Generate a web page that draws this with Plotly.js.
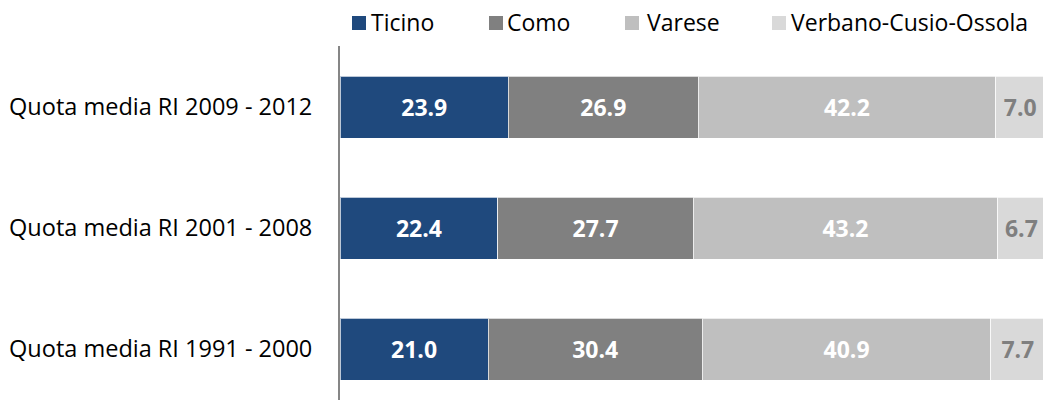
<!DOCTYPE html>
<html>
<head>
<meta charset="utf-8">
<script src="https://cdn.plot.ly/plotly-3.0.1.min.js"></script>
<style>
  html, body { margin: 0; padding: 0; background: #fff; }
  #chart { width: 1043px; height: 400px; }
</style>
</head>
<body>
<div id="chart"></div>
<script>
// ---- data ----
var periods = ["Quota media RI 1991 - 2000", "Quota media RI 2001 - 2008", "Quota media RI 2009 - 2012"];
var seriesNames = ["Ticino", "Como", "Varese", "Verbano-Cusio-Ossola"];
var ticino = [21.0, 22.4, 23.9];
var como = [30.4, 27.7, 26.9];
var varese = [40.9, 43.2, 42.2];
var vco = [7.7, 6.7, 7.0];

// ---- styles ----
var colors = ["#1F497D", "#808080", "#BFBFBF", "#D9D9D9"];
var labelColors = ["#FFFFFF", "#FFFFFF", "#FFFFFF", "#7F7F7F"];
var FONT = "Open Sans, sans-serif";

var values = [ticino, como, varese, vco];
var traces = values.map(function (vals, i) {
  return {
    type: "bar",
    orientation: "h",
    name: seriesNames[i],
    y: periods,
    x: vals,
    width: 0.512,
    marker: { color: colors[i], line: { color: "rgba(255,255,255,0.7)", width: 1 } },
    texttemplate: "%{x:.1f}",
    textposition: "inside",
    insidetextanchor: "middle",
    textangle: 0,
    constraintext: "none",
    insidetextfont: { family: FONT, size: 23, color: labelColors[i], weight: "bold" },
    hoverinfo: "skip",
    showlegend: false
  };
});

// ---- manual legend (pixel layout converted to paper coords) ----
var L = 340, T = 46, W = 703, H = 354;
function px2x(p) { return (p - L) / W; }
function py2y(p) { return (T + H - p) / H; }
var legendSquareX = [352, 489, 625, 772];
var legendTextX = [369, 505, 645, 789];
var shapes = [], annotations = [];
seriesNames.forEach(function (n, i) {
  shapes.push({
    type: "rect", xref: "paper", yref: "paper",
    x0: px2x(legendSquareX[i]), x1: px2x(legendSquareX[i] + 14),
    y0: py2y(30), y1: py2y(16),
    fillcolor: colors[i], line: { width: 0 }
  });
  annotations.push({
    xref: "paper", yref: "paper",
    x: px2x(legendTextX[i]), y: py2y(22),
    xanchor: "left", yanchor: "middle",
    text: n, showarrow: false,
    font: { family: FONT, size: 23, color: "#000000" }
  });
});

var layout = {
  width: 1043, height: 400,
  margin: { l: L, r: 1043 - L - W, t: T, b: 0, pad: 0 },
  paper_bgcolor: "#ffffff", plot_bgcolor: "#ffffff",
  barmode: "stack",
  showlegend: false,
  font: { family: FONT, size: 23, color: "#000000" },
  xaxis: {
    range: [0, 99.72], visible: false, fixedrange: true
  },
  yaxis: {
    type: "category",
    categoryorder: "array",
    categoryarray: periods,
    range: [-0.42, 2.504],
    showline: true, linecolor: "#868686", linewidth: 2,
    showgrid: false, zeroline: false,
    ticks: "outside", ticklen: 21, tickcolor: "rgba(0,0,0,0)",
    tickfont: { family: FONT, size: 23.5, color: "#000000" },
    fixedrange: true
  },
  shapes: shapes,
  annotations: annotations
};

Plotly.newPlot("chart", traces, layout, { staticPlot: true, displayModeBar: false });
</script>
</body>
</html>
